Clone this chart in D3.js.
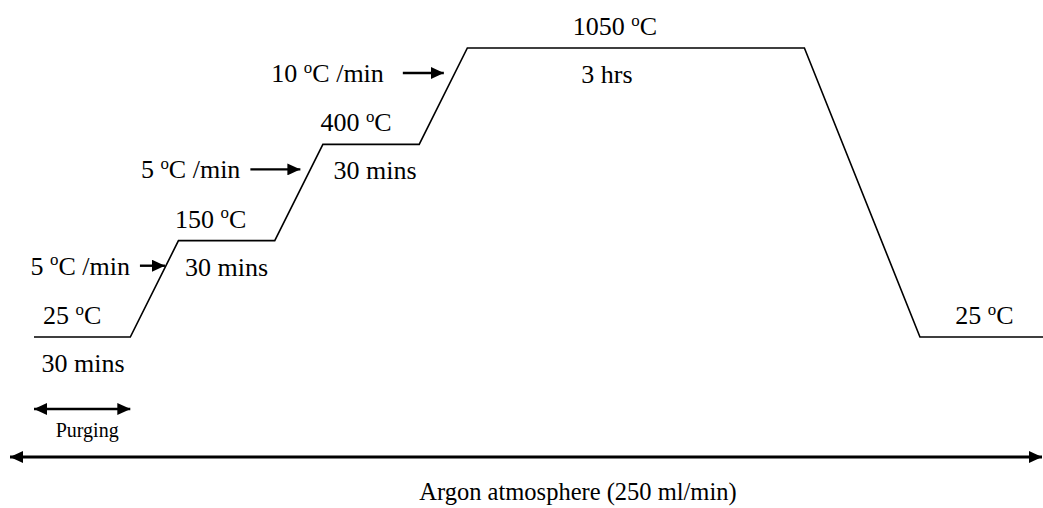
<!DOCTYPE html>
<html>
<head>
<meta charset="utf-8">
<script src="https://cdn.jsdelivr.net/npm/d3@7"></script>
<style>
  html, body { margin: 0; padding: 0; background: #fff; }
  svg { display: block; }
  text { font-family: "Liberation Serif", "Times New Roman", serif; fill: #000; }
</style>
</head>
<body>
<svg id="chart" width="1043" height="508"></svg>
<script>
// Heat-treatment programme: hold temperatures, hold times and ramp rates
const stageTemps = [25, 150, 400, 1050, 25];
const holdLabels = ["30 mins", "30 mins", "30 mins", "3 hrs", ""];
const rampRates = [5, 5, 10, null];
// Schematic span of each hold / ramp along the time axis (not to scale)
const holdSpans = [1, 1, 1, 3.5, 1.35];
const rampSpans = [0.5, 0.5, 0.5, 1.2];
// Distinct temperature levels, bottom to top
const tempLevels = [25, 150, 400, 1050];
const purgeLabel = "Purging";
const atmosphereLabel = "Argon atmosphere (250 ml/min)";

const svg = d3.select("#chart");
const W = 1043, H = 508;

const totalSpan = d3.sum(holdSpans) + d3.sum(rampSpans);
const x = d3.scaleLinear().domain([0, totalSpan]).range([34, 34 + totalSpan * 96.3]);
const y = d3.scalePoint().domain(tempLevels).range([337, 48]).padding(0);

// Build the profile vertices from the stage sequence
const points = [];
const holds = [];
const ramps = [];
let t = 0;
stageTemps.forEach((temp, i) => {
  const start = t;
  points.push([t, temp]);
  t += holdSpans[i];
  points.push([t, temp]);
  holds.push({ temp, start, end: t, label: holdLabels[i] });
  if (i < rampSpans.length) {
    ramps.push({ t0: t, t1: t + rampSpans[i], from: temp, to: stageTemps[i + 1], rate: rampRates[i] });
    t += rampSpans[i];
  }
});

const defs = svg.append("defs");
function head(id, orient, len, wid) {
  defs.append("marker")
    .attr("id", id)
    .attr("markerUnits", "userSpaceOnUse")
    .attr("viewBox", `0 ${-wid / 2} ${len} ${wid}`)
    .attr("refX", len).attr("refY", 0)
    .attr("markerWidth", len).attr("markerHeight", wid)
    .attr("orient", orient)
    .append("path")
    .attr("d", `M0,${-wid / 2}L${len},0L0,${wid / 2}Z`)
    .attr("fill", "#000");
}
head("ah", "auto", 13, 12);
head("ahs", "auto-start-reverse", 13, 12);

// Temperature profile
svg.append("clipPath").attr("id", "clip")
  .append("rect").attr("x", 0).attr("y", 0).attr("width", W).attr("height", H);
svg.append("path")
  .datum(points)
  .attr("clip-path", "url(#clip)")
  .attr("fill", "none")
  .attr("stroke", "#000")
  .attr("stroke-width", 1.6)
  .attr("stroke-linejoin", "miter")
  .attr("d", d3.line().x(d => x(d[0])).y(d => y(d[1])));

const FS = 26;

// Text with a superscript "o" for the degree sign
function degreeText(g, pre, post) {
  g.append("tspan").text(pre + " ");
  g.append("tspan").attr("font-size", FS * 0.65).attr("dy", -FS * 0.36).text("o");
  g.append("tspan").attr("dy", FS * 0.36).text("C" + post);
}

// Temperature labels above each hold, durations below
const tempDx = [-10, -16, -15, -21, 3];
const durDx = [1, 0, 4, -29, 0];
holds.forEach((h, i) => {
  const cx = (x(h.start) + Math.min(x(h.end), W)) / 2;
  const yy = y(h.temp);
  const tl = svg.append("text")
    .attr("x", cx + tempDx[i]).attr("y", yy - 13)
    .attr("text-anchor", "middle").attr("font-size", FS);
  degreeText(tl, String(h.temp), "");
  if (h.label) {
    svg.append("text")
      .attr("x", cx + durDx[i]).attr("y", yy + 35)
      .attr("text-anchor", "middle").attr("font-size", FS)
      .text(h.label);
  }
});

// Ramp-rate labels with arrows pointing at the heating ramps
const arrowGap = [1, 10, 11];
const arrowLen = [25, 50, 41];
const textGap = [10, 10, 19];
ramps.forEach((r, i) => {
  if (r.rate == null) return;
  const frac = 0.74;
  const ay = y(r.from) + (y(r.to) - y(r.from)) * frac;
  const rx = x(r.t0) + (x(r.t1) - x(r.t0)) * frac;
  const tip = rx - arrowGap[i];
  const tail = tip - arrowLen[i];
  svg.append("line")
    .attr("x1", tail).attr("x2", tip).attr("y1", ay).attr("y2", ay)
    .attr("stroke", "#000").attr("stroke-width", 2.4)
    .attr("marker-end", "url(#ah)");
  const tl = svg.append("text")
    .attr("x", tail - textGap[i]).attr("y", ay + 9)
    .attr("text-anchor", "end").attr("font-size", FS);
  degreeText(tl, String(r.rate), " /min");
});

// Purging interval (first hold)
const py = 409;
svg.append("line")
  .attr("x1", x(holds[0].start)).attr("x2", x(holds[0].end))
  .attr("y1", py).attr("y2", py)
  .attr("stroke", "#000").attr("stroke-width", 2.4)
  .attr("marker-start", "url(#ahs)").attr("marker-end", "url(#ah)");
svg.append("text")
  .attr("x", (x(holds[0].start) + x(holds[0].end)) / 2 + 5).attr("y", 437)
  .attr("text-anchor", "middle").attr("font-size", 20)
  .text(purgeLabel);

// Argon atmosphere over the whole programme
const ay2 = 457;
svg.append("line")
  .attr("x1", 10).attr("x2", W - 1)
  .attr("y1", ay2).attr("y2", ay2)
  .attr("stroke", "#000").attr("stroke-width", 2.8)
  .attr("marker-start", "url(#ahs)").attr("marker-end", "url(#ah)");
svg.append("text")
  .attr("x", 578).attr("y", 500)
  .attr("text-anchor", "middle").attr("font-size", 24.5)
  .text(atmosphereLabel);
</script>
</body>
</html>
